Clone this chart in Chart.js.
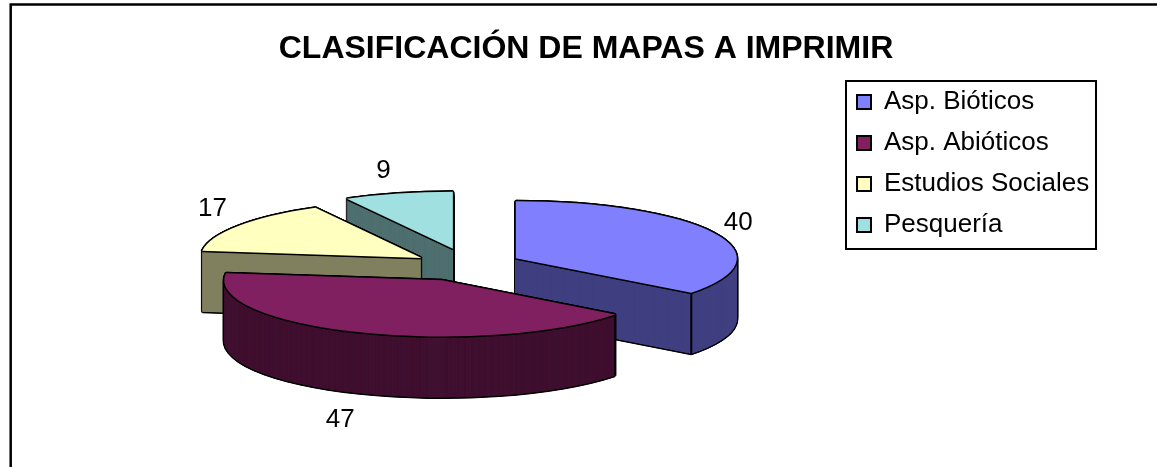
<!DOCTYPE html>
<html>
<head>
<meta charset="utf-8">
<script src="https://cdn.jsdelivr.net/npm/chart.js@4"></script>
<style>
  html, body { margin: 0; padding: 0; background: #fff; overflow: hidden; }
  canvas { display: block; }
</style>
</head>
<body>
<canvas id="chart" width="1157" height="467"></canvas>
<script>
const categories = ["Asp. Bióticos", "Asp. Abióticos", "Estudios Sociales", "Pesquería"];
const values = [40, 47, 17, 9];
const topColors = ["#8080FF", "#802060", "#FFFFC0", "#A0E0E0"];
const sideColors = ["#404080", "#401030", "#808060", "#507070"];
const chartTitle = "CLASIFICACIÓN DE MAPAS A IMPRIMIR";

const FONT = "'Liberation Sans', Arial, sans-serif";
const CX = 462, CY = 265, TILT = 0.258, DEPTH = 61;

// per slice look of the exploded pie, in draw space
const explode = [60, 60, 49, 45];
const radii = [221, 218, 221, 221];
const originNudge = [[0, 0], [3, 1], [0, 0], [2, -5]];
const labelNudge = [[0, 5], [-9, 2], [-4, -1], [-8, -4]];
const drawOrder = [3, 2, 0, 1];

// where a slice's centre lands once exploded and tilted
function sliceOrigin(arc, i) {
  const mid = (arc.startAngle + arc.endAngle) / 2;
  return {
    x: CX + explode[i] * Math.cos(mid) + originNudge[i][0],
    y: CY + explode[i] * Math.sin(mid) * TILT + originNudge[i][1]
  };
}

function drawFlat(ctx, arc, i, o, color, dx, dy) {
  ctx.save();
  ctx.setTransform(1, 0, 0, TILT, o.x + dx - arc.x, o.y + dy - arc.y * TILT);
  const savedOptions = arc.options;
  const savedRadius = arc.outerRadius;
  arc.options = Object.assign({}, savedOptions, { backgroundColor: color, borderWidth: 0, offset: 0, spacing: 0 });
  arc.outerRadius = radii[i];
  arc.draw(ctx);
  arc.options = savedOptions;
  arc.outerRadius = savedRadius;
  ctx.restore();
}

// black halo behind a face, gives an even outline under the squashed transform
function drawHalo(ctx, arc, i, o, dy) {
  for (const [dx, ey] of [[-1.5, 0], [1.5, 0], [0, -1.5], [0, 1.5], [-1, -1], [1, 1], [-1, 1], [1, -1]]) {
    drawFlat(ctx, arc, i, o, "#000", dx, dy + ey);
  }
}

const pie3d = {
  id: "pie3d",
  beforeDraw(chart) {
    const ctx = chart.ctx;
    ctx.save();
    ctx.strokeStyle = "#000";
    ctx.lineWidth = 2.5;
    ctx.beginPath();
    ctx.moveTo(10.7, 467);
    ctx.lineTo(10.7, 4.6);
    ctx.lineTo(1157, 4.6);
    ctx.stroke();
    ctx.restore();
  },
  afterUpdate(chart) {
    const lg = chart.legend;
    lg.left = 842; lg.top = 74; lg.right = 1100; lg.bottom = 300;
    lg.width = 258; lg.height = 226;
  },
  beforeDatasetDraw(chart, args) {
    const ctx = chart.ctx;
    const arcs = args.meta.data;
    drawOrder.forEach(i => {
      const arc = arcs[i];
      const o = sliceOrigin(arc, i);
      for (let d = DEPTH; d >= 0; d -= 1) drawHalo(ctx, arc, i, o, d);
      for (let d = DEPTH; d > 0; d -= 0.25) drawFlat(ctx, arc, i, o, sideColors[i], 0, d);

      // vertical edge where the rim meets the cut face, front corners only
      ctx.save();
      ctx.strokeStyle = "#000";
      ctx.lineWidth = 2;
      ctx.beginPath();
      [arc.startAngle, arc.endAngle].forEach(a => {
        if (Math.sin(a) <= 0) return;
        const x = o.x + radii[i] * Math.cos(a);
        const y = o.y + radii[i] * TILT * Math.sin(a);
        ctx.moveTo(x, y);
        ctx.lineTo(x, y + DEPTH);
      });
      ctx.stroke();
      ctx.restore();

      drawHalo(ctx, arc, i, o, 0);
      drawFlat(ctx, arc, i, o, topColors[i], 0, 0);
    });
    return false;
  },
  afterDatasetsDraw(chart) {
    const ctx = chart.ctx;
    const arcs = chart.getDatasetMeta(0).data;
    ctx.save();
    ctx.fillStyle = "#000";
    ctx.font = "26px " + FONT;
    ctx.textAlign = "center";
    ctx.textBaseline = "middle";
    arcs.forEach((arc, i) => {
      const o = sliceOrigin(arc, i);
      const mid = (arc.startAngle + arc.endAngle) / 2;
      const r = radii[i] + 27;
      const front = Math.sin(mid) > 0.5;
      const x = o.x + r * Math.cos(mid) + labelNudge[i][0];
      const y = o.y + r * TILT * Math.sin(mid) + (front ? DEPTH + 18 : -12) + labelNudge[i][1];
      ctx.fillText(String(values[i]), x, y);
    });
    ctx.restore();
  },
  afterDraw(chart) {
    const ctx = chart.ctx;
    ctx.save();
    ctx.strokeStyle = "#000";
    ctx.lineWidth = 2;
    ctx.strokeRect(846, 81, 250, 168);
    ctx.restore();
  }
};

new Chart(document.getElementById("chart"), {
  type: "pie",
  plugins: [pie3d],
  data: {
    labels: categories,
    datasets: [{
      data: values,
      backgroundColor: topColors,
      borderColor: "#000",
      borderWidth: 2,
      radius: 221,
      clip: false
    }]
  },
  options: {
    responsive: false,
    animation: false,
    layout: { padding: { left: 15, top: 30 } },
    plugins: {
      tooltip: { enabled: false },
      title: {
        display: true,
        text: chartTitle,
        color: "#000",
        font: { family: FONT, size: 32, weight: "bold" },
        padding: 0
      },
      legend: {
        position: "chartArea",
        align: "start",
        labels: {
          color: "#000",
          font: { family: FONT, size: 26 },
          boxWidth: 14,
          boxHeight: 14,
          padding: 15
        }
      }
    }
  }
});
</script>
</body>
</html>
